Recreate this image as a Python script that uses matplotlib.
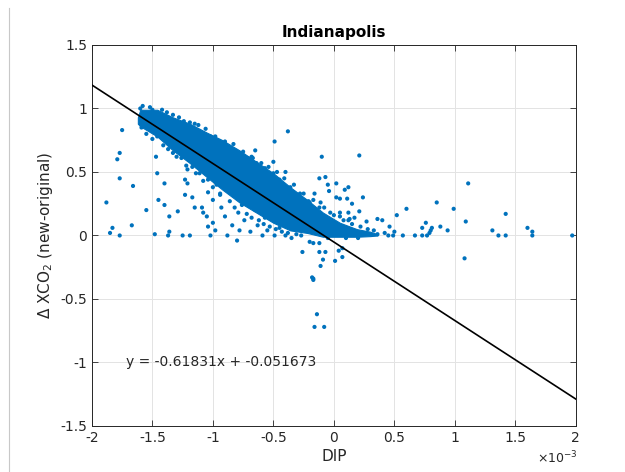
import numpy as np
import matplotlib
matplotlib.use("Agg")
import matplotlib.pyplot as plt
from matplotlib.lines import Line2D

# DIP in units of 1e-3, delta XCO2 (new - original)
band_x = [-1.62, -1.60, -1.46, -1.33, -1.19, -1.05, -0.92, -0.78, -0.64,
          -0.50, -0.36, -0.22, -0.09, 0.05, 0.19, 0.30, 0.36]
band_hi = [0.93, 0.99, 0.99, 0.93, 0.88, 0.81, 0.75, 0.67, 0.58,
           0.49, 0.38, 0.28, 0.18, 0.10, 0.05, 0.03, 0.01]
band_lo = [0.88, 0.86, 0.78, 0.67, 0.57, 0.46, 0.36, 0.26, 0.18,
           0.10, 0.04, 0.02, -0.01, -0.01, -0.01, -0.005, 0.0]

# points along the ragged rim of the dense cloud
edge_x = [-1.60, -1.52, -1.42, -1.33, -1.19, -1.12, -1.09, -1.02, -0.94, -0.86,
          -0.78, -0.71, -0.64, -0.57, -0.50, -0.45, -0.36, -0.28, -0.20, -0.12,
          -0.03, 0.05, 0.12,
          -1.59, -1.46, -1.41, -1.33, -1.26, -1.17, -1.11, -1.04, -0.97, -0.88, -0.79,
          -1.58, -1.50, -1.38, -1.28, -1.24, -1.15, -1.06, -0.98, -0.90, -0.83,
          -0.75, -0.68, -0.60, -0.54, -0.47, -0.41, -0.33, -0.25, -0.17, -0.08,
          0.00, 0.08, 0.15, 0.22, 0.28, 0.33,
          -1.55, -1.50, -1.37, -1.30, -1.22, -1.14, -1.08, -1.00, -0.94, -0.86,
          -0.82, -0.76, -0.72, -0.68, -0.62, -0.58, -0.53, -0.48, -0.43, -0.38,
          -0.31, -0.27, -0.05, 0.10, 0.20]
edge_y = [1.00, 1.01, 0.99, 0.95, 0.89, 0.87, 0.81, 0.78, 0.71, 0.67,
          0.65, 0.61, 0.57, 0.53, 0.49, 0.44, 0.38, 0.33, 0.26, 0.22,
          0.18, 0.15, 0.12,
          0.85, 0.78, 0.71, 0.65, 0.61, 0.54, 0.49, 0.44, 0.40, 0.36, 0.32,
          1.02, 0.99, 0.97, 0.93, 0.90, 0.88, 0.84, 0.78, 0.74, 0.72,
          0.66, 0.62, 0.57, 0.54, 0.50, 0.45, 0.40, 0.33, 0.28, 0.22,
          0.16, 0.12, 0.09, 0.07, 0.05, 0.04,
          0.80, 0.76, 0.68, 0.62, 0.55, 0.49, 0.43, 0.38, 0.32, 0.27,
          0.22, 0.24, 0.17, 0.14, 0.12, 0.09, 0.07, 0.05, 0.03, 0.02,
          0.01, 0.00, -0.02, -0.02, -0.02]

out_x = [-1.88, -1.85, -1.83, -1.77, -1.67, -1.75, -1.77, -1.79, -1.77, -1.66,
         -1.55, -1.47, -1.46, -1.40, -1.45, -1.40, -1.36, -1.36, -1.37, -1.48,
         -1.25, -1.19, -1.29, -1.23, -1.23, -1.21, -1.21, -1.17, -1.09, -1.08,
         -1.04, -1.02, -0.98, -1.00, -0.93, -0.94, -0.90, -0.80, -1.15, -1.04,
         -1.00, -1.05,
         -0.78, -0.74, -0.69, -0.63, -0.59, -0.55, -0.49, -0.45, -0.79, -0.84,
         -0.65, -0.71, -0.57, -0.88, -0.40, -0.35,
         -0.38, -0.49, -0.50, -0.67, -0.65, -0.40, -0.10, 0.21, -0.12, -0.07,
         -0.05, -0.04, 0.02, 0.12, 0.09, 0.24, -0.16, -0.11, -0.21, 0.02,
         0.05, 0.11, 0.15, 0.21, 0.12, 0.05, 0.13, 0.17, 0.27, 0.36,
         0.40, 0.46, 0.52, 0.60, 0.85, 0.99, 1.11, 1.09, 0.76, 0.73,
         0.81, 0.88, 0.94, 0.77, 0.79, 0.80, 0.67, 0.57, 0.73, 0.49,
         0.45, 1.31, 1.36, 1.42, 1.42, 1.60, 1.64, 1.64, 1.97, 1.08,
         0.27, 0.36, 0.42, 0.50,
         -0.26, -0.12, -0.07, -0.09, 0.01, 0.07, 0.04, -0.11, -0.18, -0.17,
         -0.17, -0.14, -0.16, -0.08, -0.20, -0.12, -0.17, 0.07]
out_y = [0.26, 0.02, 0.06, 0.00, 0.08, 0.83, 0.65, 0.60, 0.45, 0.39,
         0.20, 0.62, 0.49, 0.41, 0.28, 0.24, 0.15, 0.03, 0.00, 0.01,
         0.00, 0.00, 0.19, 0.32, 0.44, 0.41, 0.52, 0.30, 0.22, 0.18,
         0.07, 0.00, 0.04, 0.10, 0.22, 0.33, 0.15, -0.04, 0.22, 0.34,
         0.28, 0.15,
         0.04, 0.12, 0.03, 0.08, 0.00, 0.04, 0.00, 0.06, 0.18, 0.08,
         0.20, 0.24, 0.14, 0.00, 0.00, -0.02,
         0.82, 0.74, 0.58, 0.61, 0.67, 0.50, 0.62, 0.63, 0.45, 0.46,
         0.40, 0.35, 0.41, 0.38, 0.36, 0.30, 0.33, 0.26, 0.27, 0.30,
         0.29, 0.29, 0.25, 0.19, 0.18, 0.18, 0.13, 0.14, 0.11, 0.13,
         0.12, 0.07, 0.16, 0.21, 0.26, 0.21, 0.41, 0.11, 0.10, 0.06,
         0.06, 0.07, 0.04, 0.00, 0.02, 0.04, 0.00, 0.00, 0.00, 0.00,
         0.00, 0.04, 0.00, 0.00, 0.17, 0.06, 0.03, 0.00, 0.00, -0.18,
         0.02, 0.01, 0.02, 0.03,
         -0.13, -0.13, -0.13, -0.19, -0.20, -0.17, -0.12, -0.24, -0.33, -0.35,
         -0.34, -0.62, -0.72, -0.72, -0.05, -0.06, -0.06, -0.10]

slope = -0.61831
intercept = -0.051673

blue = "#0072BD"
dark = "#262626"

plt.rcParams["font.family"] = "DejaVu Sans"
fig = plt.figure(figsize=(6.25, 4.72), dpi=100)
ax = fig.add_axes([0.147, 0.0975, 0.7744, 0.8072])

ax.fill_between(band_x, band_lo, band_hi, color=blue, lw=0.8, edgecolor=blue, zorder=2)
ax.scatter(edge_x, edge_y, s=9, color=blue, edgecolors="none", zorder=2)
ax.scatter(out_x, out_y, s=9, color=blue, edgecolors="none", zorder=2)

xs = np.array([-2.0, 2.0])
ax.plot(xs, slope * xs + intercept, color="black", lw=1.2, zorder=3)

ax.text(-1.72, -1.0, "y = %gx + %g" % (slope, intercept), fontsize=10,
        color=dark, va="center", ha="left")

ax.set_xlim(-2, 2)
ax.set_ylim(-1.5, 1.5)
ax.set_xticks(np.arange(-2, 2.01, 0.5))
ax.set_yticks(np.arange(-1.5, 1.51, 0.5))
ax.set_xticklabels(["-2", "-1.5", "-1", "-0.5", "0", "0.5", "1", "1.5", "2"])
ax.set_yticklabels(["-1.5", "-1", "-0.5", "0", "0.5", "1", "1.5"])
ax.tick_params(direction="in", length=4, width=0.6, colors=dark, labelsize=10,
               top=True, right=True)
ax.grid(True, color="#e3e3e3", lw=0.7)
ax.set_axisbelow(True)
for sp in ax.spines.values():
    sp.set_color(dark)
    sp.set_linewidth(0.7)

ax.set_title("Indianapolis", fontsize=11, fontweight="bold", pad=6)
ax.set_xlabel("DIP", fontsize=11, color=dark, labelpad=3)
ax.set_ylabel(r"$\Delta$ XCO$_2$ (new-original)", fontsize=11, color=dark, labelpad=4)
fig.text(0.925, 0.013, r"$\times10^{-3}$", fontsize=9, color=dark, ha="right", va="bottom")

fig.add_artist(Line2D([0.0144, 0.0144], [0.0, 0.983], color="#c8c8c8", lw=0.8))

fig.savefig("out.png", dpi=100)
